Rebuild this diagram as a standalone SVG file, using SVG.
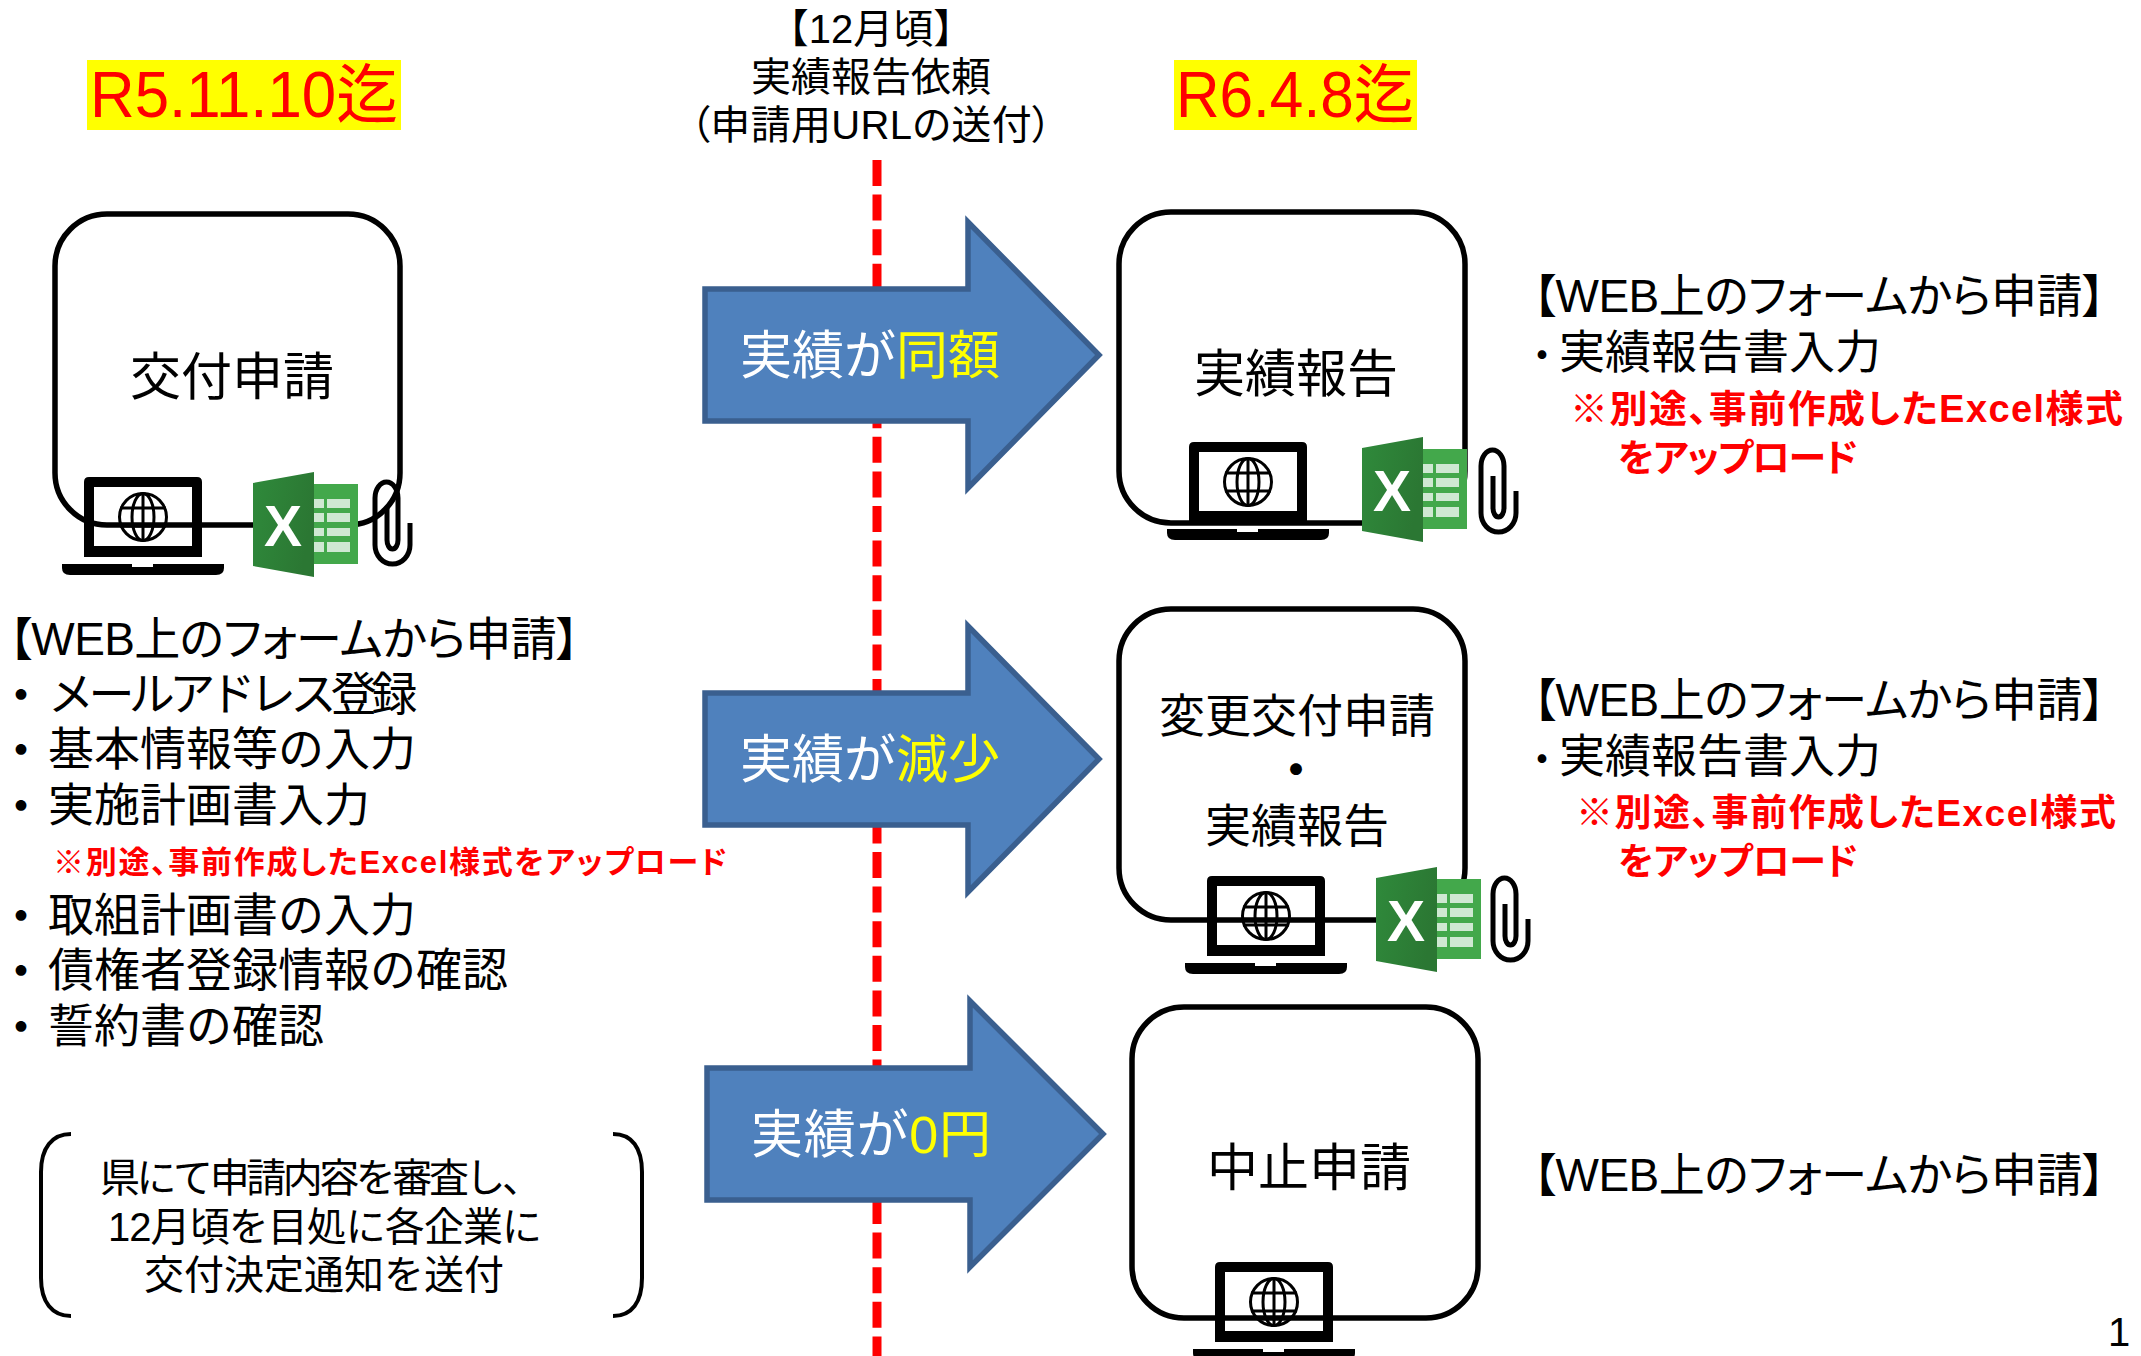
<svg xmlns="http://www.w3.org/2000/svg" width="2141" height="1356" viewBox="0 0 2141 1356">
<style>
text{font-family:"Liberation Sans","Noto Sans CJK JP",sans-serif;fill:#000}
.t45{font-size:46px}.t50{font-size:51px}.t40{font-size:40px}.t51{font-size:52px;fill:#fff}
.mid{font-size:46px}
.m{text-anchor:middle}
.p{font-feature-settings:"palt"}
.b{font-weight:700}
.r{fill:#f00;font-weight:700;font-feature-settings:"palt"}.y{fill:#ff0}
.dl{font-size:64px;fill:#f00}.hl{fill:#ff0}
.box{fill:none;stroke:#000;stroke-width:5.5}
.arrow{fill:#4f81bd;stroke:#3a5f8f;stroke-width:5.5}
.brk{fill:none;stroke:#000;stroke-width:4}
.dash{fill:none;stroke:#f00;stroke-width:9;stroke-dasharray:26 8.6}
</style>
<defs>
<linearGradient id="xg" x1="0" y1="0" x2="1" y2="0.3"><stop offset="0" stop-color="#2f8a3b"/><stop offset="1" stop-color="#2b7733"/></linearGradient>
<g id="laptop">
<path fill="#000" fill-rule="evenodd" d="M89 477H197Q202 477 202 482V557H84V482Q84 477 89 477ZM94 487V546H192V487Z"/>
<path fill="#000" d="M62 564H132V567H153V564H224V568Q224 575 216 575H70Q62 575 62 568Z"/>
<g fill="none" stroke="#000" stroke-width="3">
<circle cx="143" cy="517" r="23.5"/><ellipse cx="143" cy="517" rx="11" ry="23.5"/>
<path d="M143 493.500V540.500M120 508H166M120 526H166"/>
</g>
</g>
<g id="excel">
<path fill="url(#xg)" d="M253 483L314 472V577L253 566Z"/>
<rect x="314" y="484" width="44" height="80" fill="#43a84b"/>
<path fill="#cfe8d2" d="M314 499h10v9h-10zM327 499h23v9h-23zM314 513h10v9h-10zM327 513h23v9h-23zM314 528h10v8h-10zM327 528h23v8h-23zM314 542h10v10h-10zM327 542h23v10h-23z"/>
<text x="264" y="546" style="font-size:57px;font-weight:700;fill:#fff;font-family:'Liberation Sans',sans-serif">X</text>
</g>
<path id="clip" fill="none" stroke="#000" stroke-width="5" d="M410 523V545A17.500 19 0 0 1 375 545V498A11.500 16 0 0 1 398 498V540A5.500 9 0 0 1 387 540V508"/>
</defs>

<g id="connectors">
<path class="dash" d="M877 160V1356"/>
<path id="arrow-same" class="arrow" d="M705 289H968V222L1099 355L968 488V421H705Z"/>
<path id="arrow-less" class="arrow" d="M705 693H968V626L1099 759L968 892V825H705Z"/>
<path id="arrow-zero" class="arrow" d="M707 1068H970V1001L1103 1134L970 1267V1200H707Z"/>
</g>

<g id="deadline-1"><rect class="hl" x="87" y="60" width="314" height="70"/><text class="dl" x="90" y="117" textLength="308" lengthAdjust="spacingAndGlyphs">R5.11.10迄</text></g>
<g id="deadline-2"><rect class="hl" x="1174" y="60" width="243" height="70"/><text class="dl" x="1176" y="117" textLength="238" lengthAdjust="spacingAndGlyphs">R6.4.8迄</text></g>

<g id="request-label">
<text class="t40 m" x="871" y="43">【12月頃】</text>
<text class="t40 m" x="871" y="91">実績報告依頼</text>
<text class="t40 p" x="690" y="139" textLength="362">（申請用URLの送付）</text>
</g>

<g id="node-application">
<rect class="box" x="55" y="214" width="345" height="311" rx="52"/>
<text class="t50 m" x="232" y="395">交付申請</text>
<use href="#laptop"/><use href="#excel"/><use href="#clip"/>
</g>

<g id="application-list">
<text class="t45 p" x="9" y="655" textLength="570">【WEB上のフォームから申請】</text>
<text class="t45" y="710"><tspan x="0" font-size="42" class="b">・</tspan><tspan x="48" letter-spacing="-5.600">メールアドレス登録</tspan></text>
<text class="t45" y="765"><tspan x="0" font-size="42" class="b">・</tspan><tspan x="48">基本情報等の入力</tspan></text>
<text class="t45" y="821"><tspan x="0" font-size="42" class="b">・</tspan><tspan x="48">実施計画書入力</tspan></text>
<text class="r" x="53" y="873" font-size="31" textLength="674">※別途、事前作成したExcel様式をアップロード</text>
<text class="t45" y="931"><tspan x="0" font-size="42" class="b">・</tspan><tspan x="48">取組計画書の入力</tspan></text>
<text class="t45" y="986"><tspan x="0" font-size="42" class="b">・</tspan><tspan x="48">債権者登録情報の確認</tspan></text>
<text class="t45" y="1042"><tspan x="0" font-size="42" class="b">・</tspan><tspan x="48">誓約書の確認</tspan></text>
</g>

<g id="review-note">
<path class="brk" d="M71 1134C52 1134 41 1148 41 1172V1278C41 1302 52 1316 71 1316"/>
<path class="brk" d="M613 1134C632 1134 642 1148 642 1172V1278C642 1302 632 1316 613 1316"/>
<text class="t40" x="100" y="1192" textLength="442">県にて申請内容を審査し、</text>
<text class="t40" x="108" y="1241" textLength="434">12月頃を目処に各企業に</text>
<text class="t40 m" x="324" y="1289">交付決定通知を送付</text>
</g>

<g id="arrow-label-same"><text class="t51 m" x="870" y="374">実績が<tspan class="y">同額</tspan></text></g>
<g id="arrow-label-less"><text class="t51 m" x="870" y="778">実績が<tspan class="y">減少</tspan></text></g>
<g id="arrow-label-zero"><text class="t51" x="751" y="1153" textLength="240">実績が<tspan class="y">0円</tspan></text></g>

<g id="node-report">
<rect class="box" x="1119" y="212" width="346" height="311" rx="52"/>
<text class="t50 m" x="1296" y="392">実績報告</text>
<use href="#laptop" x="1105" y="-35"/><use href="#excel" x="1109" y="-35"/><use href="#clip" x="1106" y="-32"/>
</g>
<g id="report-detail">
<text class="t45 p" x="1533" y="312" textLength="572">【WEB上のフォームから申請】</text>
<text class="t45" y="368"><tspan x="1525" font-size="34" class="b">・</tspan><tspan x="1559">実績報告書入力</tspan></text>
<text class="r" x="1570" y="422" font-size="38" textLength="553">※別途、事前作成したExcel様式</text>
<text class="r" x="1618" y="471" font-size="38" textLength="240">をアップロード</text>
</g>

<g id="node-change">
<rect class="box" x="1119" y="609" width="346" height="311" rx="52"/>
<text class="mid m" x="1297" y="732">変更交付申請</text>
<text class="mid m" x="1296" y="786" font-weight="700">・</text>
<text class="mid m" x="1297" y="842">実績報告</text>
<use href="#laptop" x="1123" y="399"/><use href="#excel" x="1123" y="395"/><use href="#clip" x="1118" y="396"/>
</g>
<g id="change-detail">
<text class="t45 p" x="1533" y="716" textLength="572">【WEB上のフォームから申請】</text>
<text class="t45" y="772"><tspan x="1525" font-size="34" class="b">・</tspan><tspan x="1559">実績報告書入力</tspan></text>
<text class="r" x="1576" y="826" font-size="37" textLength="540">※別途、事前作成したExcel様式</text>
<text class="r" x="1618" y="875" font-size="37" textLength="240">をアップロード</text>
</g>

<g id="node-cancel">
<rect class="box" x="1132" y="1007" width="346" height="311" rx="52"/>
<text class="t50 m" x="1309" y="1186">中止申請</text>
<use href="#laptop" x="1131" y="785"/>
</g>
<g id="cancel-detail"><text class="t45 p" x="1533" y="1191" textLength="572">【WEB上のフォームから申請】</text></g>

<g id="page-number"><text class="t40" x="2108" y="1346">1</text></g>
</svg>
